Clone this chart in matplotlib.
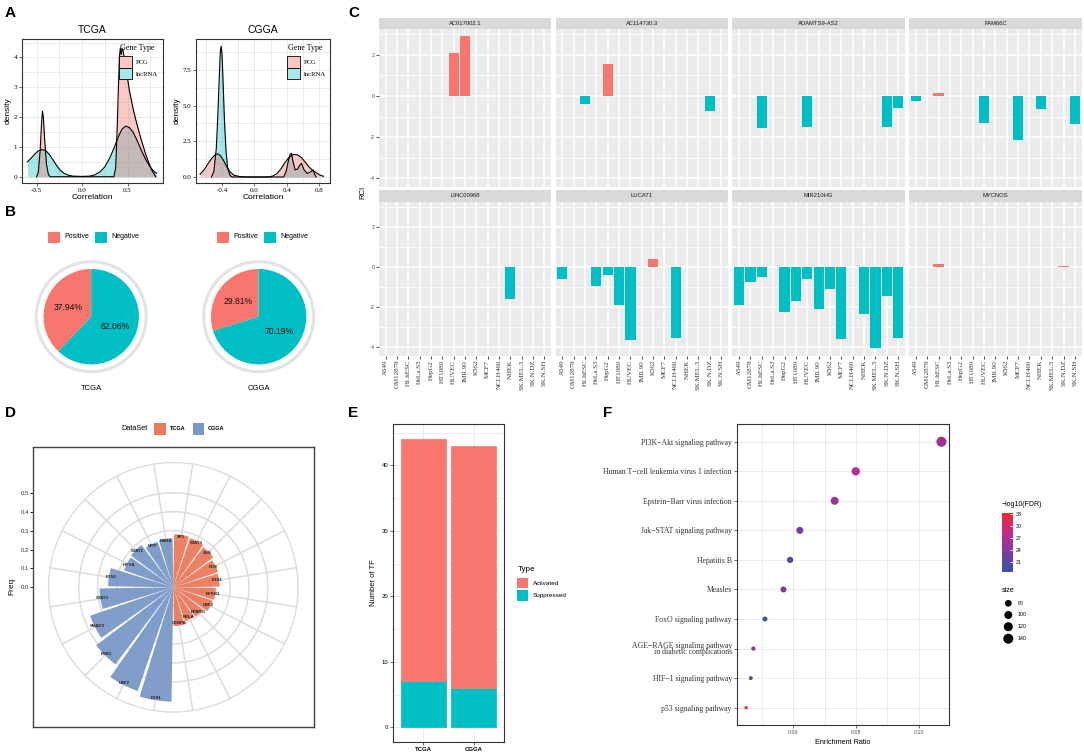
import numpy as np
import matplotlib
matplotlib.use('Agg')
from matplotlib import pyplot as plt
from matplotlib.patches import Rectangle
from matplotlib.colors import LinearSegmentedColormap, Normalize
from matplotlib.cm import ScalarMappable

W, H = 1084, 754
SANS = 'Liberation Sans'
SERIF = 'Liberation Serif'
RED = '#F8766D'
CYAN = '#00BFC4'
BW_GRID = '#EBEBEB'

# ---------------- data ----------------
# A: density curves
tcga_pcg_x = [-0.50, -0.48, -0.46, -0.445, -0.435, -0.425, -0.41, -0.39, -0.37, -0.35,
              0.35, 0.37, 0.385, 0.40, 0.41, 0.42, 0.43, 0.44, 0.45, 0.48, 0.52, 0.56,
              0.60, 0.65, 0.70, 0.74, 0.77, 0.80, 0.81]
tcga_pcg_y = [0, 0.15, 0.9, 1.8, 2.2, 2.0, 1.2, 0.4, 0.08, 0,
              0, 0.3, 1.5, 3.0, 4.0, 4.3, 4.1, 4.3, 4.25, 3.7, 2.9, 2.3,
              1.8, 1.25, 0.75, 0.42, 0.2, 0.05, 0]
tcga_lnc_x = [-0.60, -0.56, -0.52, -0.48, -0.44, -0.40, -0.36, -0.32, -0.28, -0.24, -0.20,
              -0.15, -0.10, 0.0, 0.08, 0.14, 0.20, 0.25, 0.30, 0.35, 0.40, 0.44, 0.48,
              0.52, 0.56, 0.60, 0.65, 0.70, 0.75, 0.80, 0.82]
tcga_lnc_y = [0.5, 0.62, 0.76, 0.87, 0.91, 0.88, 0.75, 0.57, 0.38, 0.22, 0.12,
              0.05, 0.02, 0.01, 0.02, 0.06, 0.17, 0.33, 0.6, 0.95, 1.35, 1.6, 1.7,
              1.65, 1.5, 1.25, 0.9, 0.58, 0.32, 0.15, 0.12]
cgga_pcg_x = [-0.67, -0.62, -0.57, -0.52, -0.48, -0.45, -0.42, -0.38, -0.34, -0.30, -0.25,
              -0.18, -0.10, 0.15, 0.22, 0.28, 0.33, 0.38, 0.43, 0.48, 0.53, 0.58, 0.63,
              0.68, 0.72, 0.76, 0.80, 0.85]
cgga_pcg_y = [0.2, 0.5, 0.95, 1.35, 1.58, 1.62, 1.5, 1.15, 0.7, 0.35, 0.12,
              0.03, 0.0, 0.0, 0.05, 0.25, 0.6, 1.05, 1.4, 1.58, 1.55, 1.35, 1.0,
              0.65, 0.45, 0.3, 0.15, 0.05]
cgga_lnc_x = [-0.53, -0.50, -0.47, -0.45, -0.43, -0.42, -0.41, -0.40, -0.39, -0.37, -0.35,
              -0.33, -0.30, -0.27, 0.36, 0.39, 0.42, 0.44, 0.455, 0.47, 0.50, 0.53, 0.56,
              0.58, 0.61, 0.65, 0.69, 0.72, 0.74, 0.76]
cgga_lnc_y = [0, 0.4, 2.0, 4.5, 7.5, 8.8, 9.15, 8.6, 7.2, 4.0, 1.8,
              0.6, 0.1, 0, 0, 0.4, 1.2, 1.6, 1.65, 1.2, 0.5, 0.55, 0.85,
              0.95, 0.5, 0.25, 0.35, 0.5, 0.2, 0]

# B: share of positive / negative correlations
pie_labels = ['Positive', 'Negative']
tcga_share = [37.94, 62.06]
cgga_share = [29.81, 70.19]

# C: RCI per cell line
cells = ['A549', 'GM12878', 'H1.hESC', 'HeLa.S3', 'HepG2', 'HT1080', 'HUVEC', 'IMR.90',
         'K562', 'MCF7', 'NCI.H460', 'NHEK', 'SK.MEL.5', 'SK.N.DZ', 'SK.N.SH']
genes = ['AC017002.1', 'AC114730.3', 'ADAMTS9-AS2', 'FAM66C',
         'LINC00968', 'LUCAT1', 'MIR210HG', 'MYCNOS']
rci = {
    'AC017002.1': {'HUVEC': 2.1, 'IMR.90': 2.9},
    'AC114730.3': {'H1.hESC': -0.4, 'HepG2': 1.58, 'SK.N.DZ': -0.73},
    'ADAMTS9-AS2': {'H1.hESC': -1.57, 'HUVEC': -1.49, 'SK.N.DZ': -1.49, 'SK.N.SH': -0.57},
    'FAM66C': {'A549': -0.22, 'H1.hESC': 0.17, 'HUVEC': -1.33, 'MCF7': -2.13,
               'NHEK': -0.65, 'SK.N.SH': -1.36},
    'LINC00968': {'NHEK': -1.59},
    'LUCAT1': {'A549': -0.57, 'HeLa.S3': -0.94, 'HepG2': -0.40, 'HT1080': -1.86,
               'HUVEC': -3.61, 'K562': 0.40, 'NCI.H460': -3.53},
    'MIR210HG': {'A549': -1.86, 'GM12878': -0.73, 'H1.hESC': -0.49, 'HepG2': -2.22,
                 'HT1080': -1.70, 'HUVEC': -0.60, 'IMR.90': -2.06, 'K562': -1.08,
                 'MCF7': -3.59, 'NHEK': -2.31, 'SK.MEL.5': -4.05, 'SK.N.DZ': -1.42,
                 'SK.N.SH': -3.53},
    'MYCNOS': {'H1.hESC': 0.15, 'SK.N.DZ': 0.07},
}

# D: TF frequency (clockwise from top)
tf_tcga = ['SP1', 'STAT3', 'JUN', 'FOS', 'ETS1', 'NFKB1', 'USF2', 'PPARG', 'RELA', 'CEBPA']
freq_tcga = [0.28, 0.275, 0.265, 0.25, 0.245, 0.225, 0.22, 0.195, 0.19, 0.205]
tf_cgga = ['ETS1', 'USF2', 'ESR1', 'SMAD3', 'STAT3', 'ETS2', 'HIF1A', 'STAT1', 'MITF', 'RARA']
freq_cgga = [0.605, 0.58, 0.51, 0.465, 0.39, 0.345, 0.275, 0.28, 0.255, 0.26]

# E: number of TF
datasets = ['TCGA', 'CGGA']
n_suppressed = [7, 6]
n_activated = [37, 37]

# F: KEGG enrichment
pathways = ['PI3K\u2212Akt signaling pathway', 'Human T\u2212cell leukemia virus 1 infection',
            'Epstein\u2212Barr virus infection', 'Jak\u2212STAT signaling pathway', 'Hepatitis B',
            'Measles', 'FoxO signaling pathway',
            'AGE\u2212RAGE signaling pathway\n in diabetic complications',
            'HIF\u22121 signaling pathway', 'p53 signaling pathway']
enrich_ratio = [0.1072, 0.0799, 0.0732, 0.0621, 0.0590, 0.0569, 0.0510, 0.0473, 0.0465, 0.0450]
gene_size = [142, 106, 101, 85, 74, 70, 58, 51, 48, 43]
neg_log_fdr = [26.0, 27.5, 25.5, 23.0, 20.0, 23.5, 19.5, 25.0, 21.0, 33.0]
size_breaks = [80, 100, 120, 140]
fdr_breaks = [21, 24, 27, 30, 33]

# ---------------- helpers ----------------
fig = plt.figure(figsize=(W / 100, H / 100), dpi=100)


def box(l, t, r, b):
    return [l / W, 1 - b / H, (r - l) / W, (b - t) / H]


def ftext(x, y, s, **kw):
    kw.setdefault('family', SANS)
    fig.text(x / W, 1 - y / H, s, **kw)


def key(x, y, w, h, fc, ec='none', lw=0.6):
    fig.add_artist(Rectangle((x / W, 1 - (y + h) / H), w / W, h / H,
                             transform=fig.transFigure, fc=fc, ec=ec, lw=lw))


def bw_axes(ax):
    for s in ax.spines.values():
        s.set_color('#333333')
        s.set_linewidth(0.8)
    ax.grid(True, which='both', color=BW_GRID, lw=0.7)
    ax.set_axisbelow(True)
    ax.tick_params(which='both', length=2, width=0.5, color='#333333', pad=1.5)
    ax.tick_params(which='minor', length=0)


def lighten(c, a):
    c = np.array(matplotlib.colors.to_rgb(c))
    return tuple(1 - a * (1 - c))


for letter, x, y in [('A', 5, 13), ('B', 5, 212), ('C', 348, 13), ('D', 5, 413),
                     ('E', 348, 413), ('F', 603, 413)]:
    ftext(x, y, letter, fontsize=11, fontweight='bold', va='center', ha='left')

# ---------------- A ----------------
panels_a = [
    ((22, 39, 163, 183), 'TCGA', tcga_pcg_x, tcga_pcg_y, tcga_lnc_x, tcga_lnc_y,
     (-0.66, 0.89), (-0.21, 4.62), [-0.5, 0, 0.5], [-0.25, 0.25, 0.75],
     [0, 1, 2, 3, 4], np.arange(0.5, 4.6, 1), '%.0f', 8, 119),
    ((196, 39, 330, 183), 'CGGA', cgga_pcg_x, cgga_pcg_y, cgga_lnc_x, cgga_lnc_y,
     (-0.72, 0.93), (-0.42, 9.66), [-0.4, 0, 0.4, 0.8], [-0.6, -0.2, 0.2, 0.6],
     [0, 2.5, 5.0, 7.5], [1.25, 3.75, 6.25, 8.75], '%.1f', 177, 287),
]
for (rect, title, px, py, lx, ly, xl, yl, xt, xmt, yt, ymt, yfmt, ylab_x, leg_x) in panels_a:
    ax = fig.add_axes(box(*rect))
    ax.fill_between(lx, ly, color=CYAN, alpha=0.35, lw=0)
    ax.fill_between(px, py, color=RED, alpha=0.4, lw=0)
    ax.plot(lx, ly, color='black', lw=0.8)
    ax.plot(px, py, color='black', lw=0.8)
    ax.set_xlim(xl)
    ax.set_ylim(yl)
    ax.set_xticks(xt)
    ax.set_xticks(xmt, minor=True)
    ax.set_yticks(yt)
    ax.set_yticks(ymt, minor=True)
    ax.set_xticklabels(['%.1f' % v for v in xt], family=SERIF, fontsize=5)
    ax.set_yticklabels([yfmt % v for v in yt], family=SERIF, fontsize=5)
    bw_axes(ax)
    ax.set_title(title, family=SANS, fontsize=7.5, pad=4)
    ax.set_xlabel('Correlation', family=SANS, fontsize=6, labelpad=1)
    ax.set_ylabel('density', family=SANS, fontsize=6, labelpad=1)
    ftext(leg_x + 18, 48, 'Gene Type', family=SERIF, fontsize=5.8, ha='center', va='center')
    key(leg_x, 56, 12.5, 11.7, lighten(RED, 0.4), ec='black')
    key(leg_x, 67.7, 12.5, 11.7, lighten(CYAN, 0.35), ec='black')
    ftext(leg_x + 17, 62, 'PCG', family=SERIF, fontsize=4.8, va='center')
    ftext(leg_x + 17, 74, 'lncRNA', family=SERIF, fontsize=4.8, va='center')

# ---------------- B ----------------
for (l, r), share, name, lk in [((30.7, 151.7), tcga_share, 'TCGA', 48),
                                ((199, 318.3), cgga_share, 'CGGA', 217)]:
    ax = fig.add_axes(box(l, 255.7, r, 377.7))
    ax.pie(share, colors=[RED, CYAN], startangle=90, counterclock=True, radius=47.7,
           autopct='%.2f%%', pctdistance=0.53,
           textprops=dict(family=SANS, fontsize=6.2, color='#111111'),
           wedgeprops=dict(lw=0))
    t = np.linspace(0, 2 * np.pi, 200)
    ax.plot(55 * np.cos(t), 55 * np.sin(t), color='#E3E3E3', lw=2.2)
    ax.set_xlim(-(r - l) / 2, (r - l) / 2)
    ax.set_ylim(-61, 61)
    ax.set_aspect('equal')
    ax.set_xticks([])
    ax.set_yticks([])
    for s in ax.spines.values():
        s.set_linewidth(0.9)
        s.set_color('#222222')
    ftext((l + r) / 2, 388, name, fontsize=5.5, ha='center', va='center')
    key(lk, 231.5, 11.5, 11, RED)
    ftext(lk + 16, 237, pie_labels[0], fontsize=5, va='center')
    key(lk + 47, 231.5, 11.5, 11, CYAN)
    ftext(lk + 63, 237, pie_labels[1], fontsize=5, va='center')

# ---------------- C ----------------
cols = [(379, 551), (555.5, 728), (732.3, 905), (909, 1081.7)]
rows = [(17.7, 29, 186.7), (190, 201.7, 355.7)]
xpos = np.arange(1, len(cells) + 1)
for gi, gene in enumerate(genes):
    (l, r) = cols[gi % 4]
    (st, pt, pb) = rows[gi // 4]
    sax = fig.add_axes(box(l, st, r, pt))
    sax.set_facecolor('#D9D9D9')
    sax.set_xticks([])
    sax.set_yticks([])
    for s in sax.spines.values():
        s.set_visible(False)
    sax.text(0.5, 0.5, gene, transform=sax.transAxes, ha='center', va='center',
             family=SANS, fontsize=4.2, color='#1A1A1A')
    ax = fig.add_axes(box(l, pt, r, pb))
    ax.set_facecolor('#EBEBEB')
    vals = [rci[gene].get(c, np.nan) for c in cells]
    ax.bar(xpos, vals, width=0.9, color=[RED if v > 0 else CYAN for v in np.nan_to_num(vals)],
           zorder=3)
    ax.set_xlim(0.4, 15.6)
    ax.set_ylim(-4.41, 3.26)
    ax.set_xticks(xpos)
    ax.set_yticks([-4, -2, 0, 2])
    ax.set_yticks([-3, -1, 1, 3], minor=True)
    ax.grid(True, which='major', color='white', lw=1.1)
    ax.grid(True, which='minor', axis='y', color='white', lw=0.55)
    ax.set_axisbelow(True)
    for s in ax.spines.values():
        s.set_visible(False)
    ax.tick_params(which='major', length=2, width=0.6, color='#333333', pad=1)
    ax.tick_params(which='minor', length=0)
    if gi % 4 == 0:
        ax.set_yticklabels(['-4', '-2', '0', '2'], family=SANS, fontsize=4, color='#4D4D4D')
    else:
        ax.tick_params(axis='y', length=0, labelleft=False)
    if gi // 4 == 1:
        ax.set_xticklabels(cells, rotation=90, family=SERIF, fontsize=5, color='#333333')
    else:
        ax.tick_params(axis='x', length=0, labelbottom=False)
ftext(363, 192, 'RCI', fontsize=5.5, rotation=90, ha='center', va='center')

# ---------------- D ----------------
bax = fig.add_axes(box(33.3, 447.3, 314, 726.7))
bax.set_xlim(0, 1)
bax.set_ylim((587.3 - 726.7) / 189, (587.3 - 447.3) / 189)
bax.set_xticks([])
rt = [0, 0.1, 0.2, 0.3, 0.4, 0.5]
bax.set_yticks(rt)
bax.set_yticklabels(['%.1f' % v for v in rt], family=SANS, fontsize=4.3, color='#333333')
bax.tick_params(axis='y', length=2, width=0.6, pad=1)
for s in bax.spines.values():
    s.set_color('#444444')
    s.set_linewidth(1.0)
bax.set_ylabel('Freq', family=SANS, fontsize=6, labelpad=4)
bax.yaxis.set_label_coords(-0.065, (587.3 - 447.3) / (726.7 - 447.3))

rmax = 125.6 / 189
pax = fig.add_axes(box(173.3 - 125.6, 587.3 - 125.6, 173.3 + 125.6, 587.3 + 125.6),
                   projection='polar')
pax.set_theta_zero_location('N')
pax.set_theta_direction(-1)
pax.set_ylim(0, rmax)
pax.set_axis_off()
n_tf = len(tf_tcga) + len(tf_cgga)
step = 2 * np.pi / n_tf
theta = (np.arange(n_tf) + 0.5) * step
circ = np.linspace(0, 2 * np.pi, 400)
for rr in [0.1, 0.2, 0.3, 0.4, 0.5, rmax - 0.004]:
    pax.plot(circ, np.full_like(circ, rr), color='#DCDCDC', lw=1.1, zorder=1)
for th in theta:
    pax.plot([th, th], [0, rmax - 0.004], color='#DCDCDC', lw=1.1, zorder=1)
ORANGE, BLUE = '#EC7A5C', '#7A98C8'
names = tf_tcga + tf_cgga
freqs = freq_tcga + freq_cgga
colors = [ORANGE] * len(tf_tcga) + [BLUE] * len(tf_cgga)
pax.bar(theta, freqs, width=step * 0.9, bottom=0, color=colors, alpha=0.95, lw=0, zorder=3)
for th, f, nm in zip(theta, freqs, names):
    pax.text(th, f - 0.012, nm, ha='center', va='center', family=SANS, fontsize=3.2,
             fontweight='bold', color='#222222', zorder=4)
ftext(134, 429, 'DataSet', fontsize=5.3, ha='center', va='center')
key(154, 423.3, 11.7, 11.7, ORANGE)
ftext(170, 429, 'TCGA', fontsize=4, fontweight='bold', va='center')
key(192.7, 423.3, 11.5, 11.7, BLUE)
ftext(208, 429, 'CGGA', fontsize=4, fontweight='bold', va='center')

# ---------------- E ----------------
ax = fig.add_axes(box(393, 424, 504, 741.7))
xe = np.arange(1, len(datasets) + 1)
ax.bar(xe, n_suppressed, width=0.9, color=CYAN, edgecolor=CYAN, lw=0.5, zorder=3)
ax.bar(xe, n_activated, bottom=n_suppressed, width=0.9, color=RED, edgecolor=RED, lw=0.5,
       zorder=3)
ax.set_xlim(0.4, 2.6)
ax.set_ylim(-2.2, 46.3)
ax.set_xticks(xe)
ax.set_xticklabels(datasets, family=SANS, fontsize=4.3, fontweight='bold')
ax.set_yticks([0, 10, 20, 30, 40])
ax.set_yticks([5, 15, 25, 35, 45], minor=True)
ax.set_yticklabels(['0', '10', '20', '30', '40'], family=SANS, fontsize=4.3)
bw_axes(ax)
ax.set_ylabel('Number of TF', family=SANS, fontsize=5.5, labelpad=3)
ftext(517.3, 569.3, 'Type', fontsize=5.8, va='center')
key(517.3, 577.7, 11, 10.6, RED)
key(517.3, 590, 11, 10.6, CYAN)
ftext(533, 583.3, 'Activated', fontsize=4.6, va='center')
ftext(533, 595.7, 'Suppressed', fontsize=4.6, va='center')

# ---------------- F ----------------
ax = fig.add_axes(box(736.7, 424, 949.3, 725.4))
cmap = LinearSegmentedColormap.from_list('fdr', ['#3553A5', '#7D3C9E', '#C22A8C', '#EE2A2A'])
norm = Normalize(18.5, 33.2)


def dot_area(s):
    d_px = np.sqrt(44.9 + 0.918 * (np.asarray(s, float) - 80))
    return (d_px * 0.72) ** 2


yf = np.arange(len(pathways))
ax.scatter(enrich_ratio, yf, s=dot_area(gene_size), c=neg_log_fdr, cmap=cmap, norm=norm,
           zorder=3, lw=0)
ax.set_xlim(0.042, 0.1097)
ax.set_ylim(len(pathways) - 0.4, -0.6)
ax.set_xticks([0.06, 0.08, 0.10])
ax.set_xticks([0.05, 0.07, 0.09], minor=True)
ax.set_xticklabels(['0.06', '0.08', '0.10'], family=SANS, fontsize=3.8, color='#4D4D4D')
ax.set_yticks(yf)
ax.set_yticklabels(pathways, family=SERIF, fontsize=5.6, color='#333333', linespacing=0.75)
bw_axes(ax)
ax.set_xlabel('Enrichment Ratio', family=SANS, fontsize=5.2, labelpad=3)

cax = fig.add_axes(box(1001.7, 513.3, 1013.3, 571.7))
cb = fig.colorbar(ScalarMappable(norm=norm, cmap=cmap), cax=cax, ticks=fdr_breaks)
cb.outline.set_visible(False)
cax.tick_params(length=2, width=0.6, color='white', direction='in', pad=2,
                labelsize=3.8)
for t in cax.get_yticklabels():
    t.set_family(SANS)
ftext(1001.7, 505, '\u2212log10(FDR)', fontsize=5, va='center')
ftext(1001.7, 590.7, 'size', fontsize=5, va='center')
lax = fig.add_axes(box(1000, 597, 1016, 645))
lax.set_axis_off()
lax.set_ylim(645, 597)
lax.set_xlim(1000, 1016)
ly = [603.3, 615, 626.7, 638.7]
lax.scatter([1008.3] * len(size_breaks), ly, s=dot_area(size_breaks), color='black', lw=0)
for yy, sb in zip(ly, size_breaks):
    ftext(1017.3, yy, str(sb), fontsize=3.8, va='center')

fig.savefig('out.png', dpi=100)
